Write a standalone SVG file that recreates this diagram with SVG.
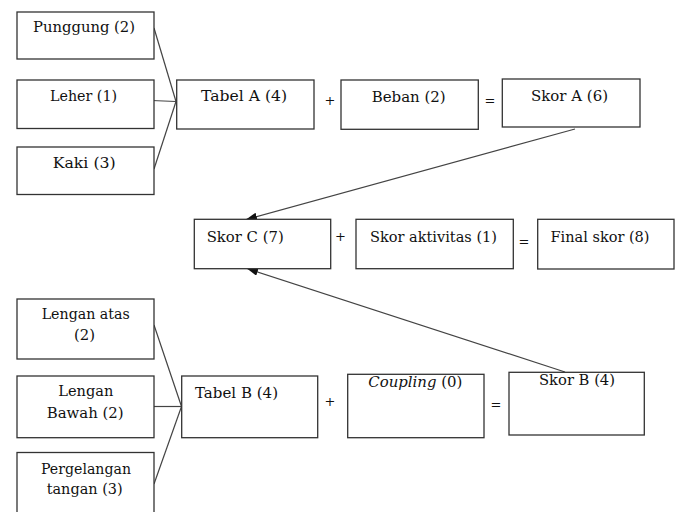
<svg xmlns="http://www.w3.org/2000/svg" width="678" height="512" viewBox="0 0 678 512">
<style>
.box{fill:#fff;stroke:#333;stroke-width:1.3}
.t{font-family:"DejaVu Serif","Liberation Serif",serif;font-size:14px;fill:#111}
.op{font-family:"DejaVu Serif","Liberation Serif",serif;font-size:13px;fill:#111;text-anchor:middle}
.c{fill:none;stroke:#444;stroke-width:1.2}
</style>
<defs>
<marker id="ah" markerWidth="12" markerHeight="8" refX="11" refY="4" orient="auto" markerUnits="userSpaceOnUse">
<path d="M0,0 L11,4 L0,8 Z" fill="#111"/>
</marker>
</defs>
<rect width="678" height="512" fill="#fff"/>
<g id="connectors">
<line class="c" x1="154" y1="28" x2="176" y2="101.5"/>
<line class="c" x1="151.5" y1="100.5" x2="176" y2="101.5"/>
<line class="c" x1="154" y1="169" x2="176" y2="101.5"/>
<line class="c" x1="154" y1="325" x2="181.5" y2="406.5"/>
<line class="c" x1="154" y1="406.5" x2="181.5" y2="406.5"/>
<line class="c" x1="154" y1="484" x2="181.5" y2="406.5"/>
<line class="c" x1="575" y1="129" x2="246" y2="219.5" marker-end="url(#ah)"/>
<line class="c" x1="565" y1="372" x2="247" y2="268.5" marker-end="url(#ah)"/>
</g>
<g id="punggung"><rect class="box" x="17" y="12" width="137" height="47"/><text class="t" x="33" y="31.5" textLength="102" lengthAdjust="spacingAndGlyphs">Punggung (2)</text></g>
<g id="leher"><rect class="box" x="17" y="80" width="137" height="48.5"/><text class="t" x="50" y="101" textLength="67" lengthAdjust="spacingAndGlyphs">Leher (1)</text></g>
<g id="kaki"><rect class="box" x="17" y="147" width="137" height="47.5"/><text class="t" x="52.7" y="168" textLength="63" lengthAdjust="spacingAndGlyphs">Kaki (3)</text></g>
<g id="tabelA"><rect class="box" x="176.7" y="80" width="137.3" height="49"/><text class="t" x="201" y="101" textLength="86" lengthAdjust="spacingAndGlyphs">Tabel A (4)</text></g>
<g id="op1"><text class="op" x="330" y="105">+</text></g>
<g id="beban"><rect class="box" x="341" y="80" width="137.3" height="49.3"/><text class="t" x="371.7" y="101.5" textLength="74" lengthAdjust="spacingAndGlyphs">Beban (2)</text></g>
<g id="op2"><text class="op" x="490" y="105">=</text></g>
<g id="skorA"><rect class="box" x="502.3" y="79" width="137.7" height="48"/><text class="t" x="531" y="100.5" textLength="77" lengthAdjust="spacingAndGlyphs">Skor A (6)</text></g>
<g id="skorC"><rect class="box" x="194.3" y="219.3" width="136.4" height="49.4"/><text class="t" x="206.7" y="242" textLength="77" lengthAdjust="spacingAndGlyphs">Skor C (7)</text></g>
<g id="op3"><text class="op" x="340.5" y="241">+</text></g>
<g id="skorAkt"><rect class="box" x="356" y="219.3" width="157.3" height="49.4"/><text class="t" x="370" y="242" textLength="127" lengthAdjust="spacingAndGlyphs">Skor aktivitas (1)</text></g>
<g id="op4"><text class="op" x="524" y="246">=</text></g>
<g id="final"><rect class="box" x="537.7" y="219.3" width="136.3" height="49.7"/><text class="t" x="550.5" y="241.7" textLength="99" lengthAdjust="spacingAndGlyphs">Final skor (8)</text></g>
<g id="lenganAtas"><rect class="box" x="17" y="299" width="137" height="60"/><text class="t" x="41.7" y="318.5" textLength="88" lengthAdjust="spacingAndGlyphs">Lengan atas</text><text class="t" x="74" y="340" textLength="21" lengthAdjust="spacingAndGlyphs">(2)</text></g>
<g id="lenganBawah"><rect class="box" x="17" y="376" width="137" height="61.7"/><text class="t" x="58.3" y="396" textLength="55" lengthAdjust="spacingAndGlyphs">Lengan</text><text class="t" x="46.7" y="418" textLength="77" lengthAdjust="spacingAndGlyphs">Bawah (2)</text></g>
<g id="pergelangan"><rect class="box" x="17" y="452.5" width="137" height="70"/><text class="t" x="41" y="473.5" textLength="90" lengthAdjust="spacingAndGlyphs">Pergelangan</text><text class="t" x="46.7" y="493.5" textLength="76" lengthAdjust="spacingAndGlyphs">tangan (3)</text></g>
<g id="tabelB"><rect class="box" x="181.7" y="376" width="136" height="61.7"/><text class="t" x="195" y="398.3" textLength="83" lengthAdjust="spacingAndGlyphs">Tabel B (4)</text></g>
<g id="op5"><text class="op" x="330" y="406">+</text></g>
<g id="coupling"><rect class="box" x="347.7" y="374.3" width="136.3" height="63.4"/><text class="t" x="368.3" y="386.7" textLength="94" lengthAdjust="spacingAndGlyphs"><tspan font-style="italic">Coupling</tspan> (0)</text></g>
<g id="op6"><text class="op" x="496" y="409">=</text></g>
<g id="skorB"><rect class="box" x="509" y="372.3" width="135.3" height="62.7"/><text class="t" x="539" y="385" textLength="76" lengthAdjust="spacingAndGlyphs">Skor B (4)</text></g>
</svg>
